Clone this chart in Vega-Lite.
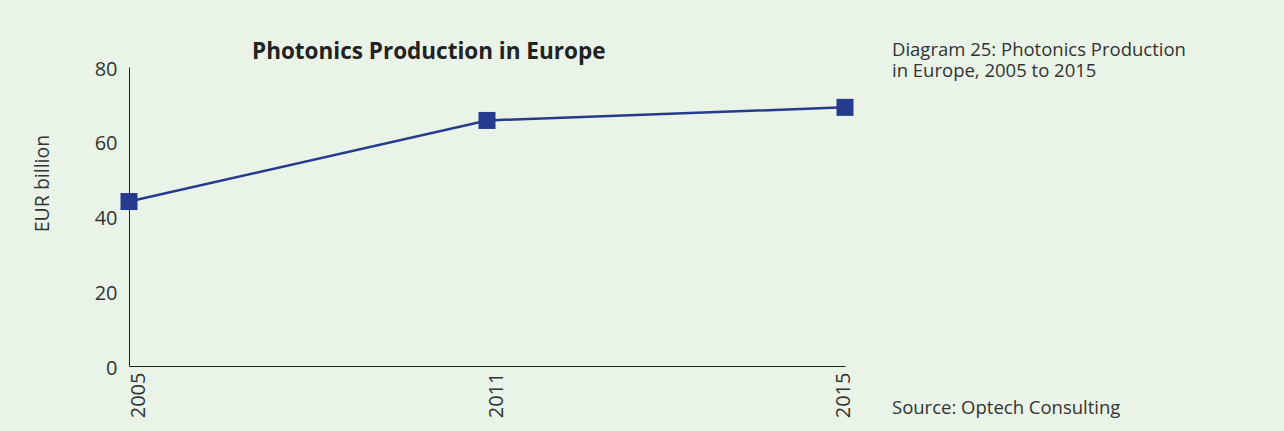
{
  "$schema": "https://vega.github.io/schema/vega-lite/v6.json",
  "width": 716,
  "height": 299,
  "autosize": "none",
  "padding": {"left": 129, "top": 67, "right": 439, "bottom": 65},
  "background": "#e9f3e7",
  "config": {"view": {"stroke": null}, "font": "Open Sans"},
  "title": {
    "text": "Photonics Production in Europe",
    "anchor": "start",
    "frame": "group",
    "dx": 123,
    "dy": 50,
    "offset": 10,
    "baseline": "alphabetic",
    "fontSize": 22.5,
    "fontWeight": "bold",
    "color": "#222222"
  },
  "datasets": {
    "production": [
      {"year": "2005", "value": 44.0},
      {"year": "2011", "value": 65.7},
      {"year": "2015", "value": 69.2}
    ],
    "caption": [{"note": "caption"}],
    "source": [{"note": "source"}]
  },
  "layer": [
    {
      "data": {"name": "production"},
      "mark": {"type": "line", "color": "#253b8e", "strokeWidth": 2.5},
      "encoding": {
        "x": {
          "field": "year",
          "type": "ordinal",
          "scale": {"type": "point", "padding": 0},
          "axis": {
            "title": null,
            "labelAngle": -90,
            "labelAlign": "right",
            "labelBaseline": "top",
            "labelFontSize": 20,
            "labelPadding": 6,
            "labelOffset": {"expr": "datum.value == '2015' ? -12 : -1"},
            "labelColor": "#333333",
            "ticks": false,
            "domainColor": "#222222",
            "grid": false
          }
        },
        "y": {
          "field": "value",
          "type": "quantitative",
          "scale": {"domain": [0, 80], "nice": false},
          "axis": {
            "values": [0, 20, 40, 60, 80],
            "title": "EUR billion",
            "titleFontSize": 19.5,
            "titleFontWeight": "normal",
            "titleColor": "#333333",
            "titleAngle": -90,
            "titleX": -81,
            "titleY": 116,
            "titleAlign": "center",
            "titleBaseline": "alphabetic",
            "labelFontSize": 20,
            "labelPadding": 12,
            "labelColor": "#333333",
            "labelOffset": 2,
            "ticks": false,
            "domainColor": "#222222",
            "grid": false
          }
        }
      }
    },
    {
      "data": {"name": "production"},
      "mark": {"type": "point", "shape": "square", "filled": true, "size": 289, "color": "#253b8e", "opacity": 1},
      "encoding": {
        "x": {"field": "year", "type": "ordinal"},
        "y": {"field": "value", "type": "quantitative"}
      }
    },
    {
      "data": {"name": "caption"},
      "mark": {
        "type": "text",
        "text": ["Diagram 25: Photonics Production", "in Europe, 2005 to 2015"],
        "align": "left",
        "baseline": "alphabetic",
        "dx": 47,
        "dy": -11,
        "fontSize": 18.5,
        "lineHeight": 20.7,
        "color": "#333333"
      },
      "encoding": {
        "x": {"datum": "2015", "type": "ordinal"},
        "y": {"datum": 80, "type": "quantitative"}
      }
    },
    {
      "data": {"name": "source"},
      "mark": {
        "type": "text",
        "text": "Source: Optech Consulting",
        "align": "left",
        "baseline": "alphabetic",
        "dx": 47,
        "dy": 48,
        "fontSize": 18.5,
        "color": "#333333"
      },
      "encoding": {
        "x": {"datum": "2015", "type": "ordinal"},
        "y": {"datum": 0, "type": "quantitative"}
      }
    }
  ]
}
